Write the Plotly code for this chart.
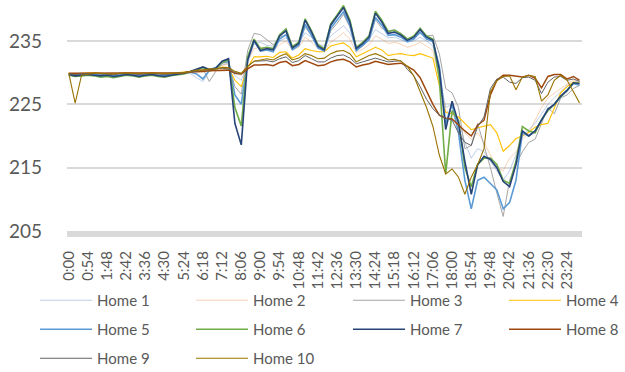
import plotly.graph_objects as go

# Sample times (minutes after midnight), one reading every 18 minutes plus the last minute of the day
sample_minutes = list(range(0, 1440, 18)) + [1439]

# Axis ticks: a label every 54 minutes
tick_minutes = list(range(0, 1440, 54))
tick_labels = [f"{m // 60}:{m % 60:02d}" for m in tick_minutes]

y_ticks = [205, 215, 225, 235]

# Voltage readings (V) per home
home1 = [229.6, 229.5, 229.6, 229.7, 229.8, 229.7, 229.6, 229.5, 229.6, 229.7, 229.6, 229.5, 229.6, 229.7, 229.6, 229.5, 229.6, 229.7, 229.8, 229.9,
         229.2, 228.6, 230.2, 230.6, 231.2, 231.5, 229.5, 228.8, 231.5, 234.5,
         234.8, 234.3, 234.2, 235.0, 235.5, 234.3, 234.6, 236.3, 235.6, 234.5, 234.2, 235.8, 236.6, 237.4, 236.3, 234.0, 234.5, 235.2, 236.8, 236.2,
         235.5, 235.6, 235.2, 234.8, 235.0, 235.6, 235.0, 234.2,
         229.5, 224.5, 225.0, 222.5, 219.0, 216.5, 218.0, 217.5, 216.0, 214.5, 213.0, 214.5, 217.0, 220.0, 221.0, 222.0, 223.5, 225.0, 226.0, 227.0,
         228.0, 228.5, 228.6]
home2 = [229.8, 229.7, 229.8, 229.9, 229.9, 229.8, 229.7, 229.7, 229.8, 229.9, 229.8, 229.7, 229.8, 229.9, 229.8, 229.7, 229.8, 229.9, 230.0, 230.2,
         230.5, 230.7, 230.6, 230.8, 231.2, 231.3, 229.8, 229.6, 231.8, 233.8,
         234.0, 233.6, 233.5, 234.4, 235.0, 233.6, 234.0, 235.6, 234.8, 233.8, 233.5, 234.8, 235.5, 236.3, 235.3, 233.2, 233.7, 234.4, 235.8, 235.3,
         234.6, 234.8, 234.5, 234.0, 234.3, 234.8, 234.2, 233.5,
         229.0, 224.0, 223.5, 222.0, 220.5, 219.5, 220.5, 219.0, 217.0, 215.0, 214.5, 216.5, 217.5, 219.5, 220.5, 222.5, 224.5, 226.0, 226.8, 227.5,
         228.2, 228.8, 229.0]
home3 = [229.8, 229.6, 229.7, 229.8, 229.9, 229.8, 229.6, 229.6, 229.7, 229.8, 229.7, 229.6, 229.7, 229.8, 229.7, 229.6, 229.7, 229.8, 229.9, 230.0,
         230.4, 230.6, 228.6, 230.2, 231.5, 231.6, 227.8, 226.6, 233.5, 236.2,
         236.0, 235.2, 234.4, 235.6, 236.0, 234.0, 234.5, 237.2, 235.8, 234.0, 233.5, 236.6, 237.8, 239.2, 237.2, 233.6, 234.2, 235.2, 238.4, 237.0,
         236.6, 236.8, 236.2, 235.4, 235.6, 236.2, 235.8, 235.9,
         233.0, 227.5, 226.8, 224.5, 218.0, 218.5, 222.0, 218.5, 215.0, 211.0, 207.3, 213.0, 215.5, 217.5, 219.0, 219.5, 222.0, 224.5, 223.5, 226.0,
         226.5, 227.5, 228.0]
home4 = [229.9, 229.8, 229.9, 230.0, 230.0, 229.9, 229.8, 229.8, 229.9, 230.0, 229.9, 229.8, 229.9, 230.0, 229.9, 229.8, 229.9, 230.0, 230.1, 230.2,
         230.4, 230.5, 230.6, 230.6, 230.9, 230.8, 228.8, 227.8, 230.8, 232.5,
         232.5, 232.6, 232.4, 233.2, 233.3, 232.3, 232.8, 233.8, 233.5, 233.3, 233.3, 234.2, 234.5, 234.7, 234.0, 232.5, 233.0, 233.5, 234.0, 233.6,
         232.7, 232.9, 233.0, 232.8, 232.7, 233.0, 232.7, 232.3,
         228.0, 223.7, 223.5, 223.0, 222.0, 221.0, 221.3, 221.6, 221.8, 220.5, 217.6, 218.5, 219.6, 220.0, 220.6, 221.4, 221.8, 222.0, 224.5, 226.8,
         227.8, 228.5, 228.4]
home5 = [229.7, 229.6, 229.7, 229.8, 229.7, 229.6, 229.7, 229.5, 229.6, 229.8, 229.7, 229.5, 229.7, 229.8, 229.6, 229.5, 229.7, 229.8, 229.9, 230.1,
         229.8, 229.0, 230.4, 230.8, 231.6, 231.8, 226.5, 225.0, 232.0, 235.0,
         233.4, 233.6, 233.3, 235.3, 236.0, 233.6, 234.3, 237.6, 235.9, 233.9, 233.4, 237.0, 238.3, 239.6, 237.5, 233.5, 234.3, 235.2, 238.7, 237.5,
         235.9, 236.0, 235.6, 234.9, 235.3, 236.4, 235.3, 234.9,
         231.0, 222.0, 225.0, 220.5, 213.0, 208.5, 213.0, 213.5, 212.5, 211.5, 208.5, 209.5, 213.0, 220.5, 220.0, 220.8, 222.5, 224.2, 225.0, 226.2,
         227.2, 228.3, 228.0]
home6 = [229.6, 229.4, 229.5, 229.6, 229.5, 229.3, 229.4, 229.2, 229.4, 229.6, 229.5, 229.3, 229.5, 229.6, 229.4, 229.3, 229.5, 229.6, 229.8, 230.1,
         230.4, 230.8, 230.3, 230.6, 231.6, 232.0, 224.5, 221.6, 232.5, 235.3,
         233.8, 234.0, 233.8, 236.0, 236.9, 234.1, 234.8, 238.5, 236.6, 234.4, 233.8, 237.7, 239.1, 240.6, 238.3, 234.0, 234.8, 235.8, 239.7, 238.3,
         236.5, 236.7, 236.1, 235.3, 235.8, 237.0, 235.8, 235.3,
         229.0, 214.0, 224.0, 222.5, 215.0, 212.0, 215.5, 216.5, 216.5, 215.5, 213.0, 212.5, 216.0, 221.5, 220.8, 220.5, 222.6, 224.0, 225.0, 226.2,
         227.2, 228.4, 228.3]
home7 = [229.7, 229.5, 229.6, 229.7, 229.6, 229.5, 229.6, 229.4, 229.5, 229.7, 229.6, 229.4, 229.6, 229.7, 229.5, 229.4, 229.6, 229.7, 229.9, 230.2,
         230.5, 230.9, 230.5, 230.7, 231.8, 232.2, 222.0, 218.6, 232.0, 235.1,
         233.5, 233.8, 233.6, 235.8, 236.6, 233.9, 234.6, 238.3, 236.4, 234.2, 233.6, 237.5, 238.9, 240.3, 238.0, 233.8, 234.6, 235.6, 239.4, 238.0,
         236.2, 236.4, 235.9, 235.1, 235.6, 236.8, 235.6, 235.1,
         230.5, 221.0, 225.5, 222.0, 216.0, 210.8, 215.5, 216.8, 216.3, 215.0, 212.8, 212.0, 215.5, 220.8, 220.0, 220.8, 222.5, 224.2, 225.0, 226.3,
         227.2, 228.4, 228.3]
home8 = [229.9, 229.9, 230.0, 230.0, 230.0, 229.9, 229.9, 229.9, 230.0, 230.0, 229.9, 229.9, 230.0, 230.0, 229.9, 229.9, 229.9, 230.0, 230.0, 230.1,
         230.1, 230.2, 230.3, 230.3, 230.4, 230.4, 229.9, 229.8, 230.6, 231.2,
         231.2, 231.3, 231.1, 231.6, 231.8, 231.1, 231.3, 231.9, 231.5, 231.1, 231.2, 231.7, 232.0, 232.1, 231.7, 230.9, 231.2, 231.4, 231.8, 231.6,
         231.3, 231.4, 231.5, 231.0, 230.4, 229.2, 227.0, 225.0,
         223.3, 222.8, 222.7, 221.7, 220.8, 220.0, 221.7, 222.5, 226.5, 228.8, 229.6, 229.6, 229.4, 229.3, 229.6, 229.1, 227.6, 229.4, 229.7, 229.7,
         229.0, 229.4, 228.8]
home9 = [229.8, 229.7, 229.8, 229.9, 229.9, 229.8, 229.7, 229.7, 229.8, 229.9, 229.8, 229.7, 229.8, 229.9, 229.8, 229.7, 229.8, 229.9, 230.0, 230.1,
         230.2, 230.4, 230.5, 230.5, 230.7, 230.6, 230.0, 229.8, 231.0, 231.8,
         231.8, 231.9, 231.7, 232.2, 232.5, 231.6, 231.9, 232.7, 232.2, 231.7, 231.7, 232.3, 232.7, 232.8, 232.3, 231.4, 231.7, 232.0, 232.3, 232.0,
         231.7, 231.8, 231.9, 230.5, 229.5, 227.8, 225.8, 224.3,
         223.3, 222.8, 222.5, 220.5, 219.0, 218.5, 221.5, 223.0, 227.5, 229.0, 229.3, 228.5, 228.3, 229.2, 229.3, 228.8, 226.7, 228.5, 229.3, 229.4,
         228.8, 229.0, 228.6]
home10 = [229.9, 225.2, 229.6, 229.8, 229.9, 229.9, 229.8, 229.8, 229.9, 229.9, 229.9, 229.8, 229.8, 229.9, 229.9, 229.8, 229.8, 229.9, 230.0, 230.2,
          230.4, 230.4, 230.6, 230.6, 230.8, 230.8, 230.2, 229.9, 231.0, 231.8,
          232.0, 232.2, 232.0, 232.6, 233.0, 232.0, 232.3, 233.0, 232.7, 232.2, 232.3, 233.0, 233.4, 233.5, 233.0, 231.7, 232.2, 232.7, 233.0, 232.6,
          232.0, 232.1, 231.8, 231.0, 229.5, 227.0, 224.5, 221.5,
          217.0, 214.0, 214.8, 213.5, 210.8, 213.5, 215.5, 218.0, 227.0, 228.7, 229.4, 229.5, 227.3, 229.3, 229.6, 229.4, 225.5, 226.5, 228.8, 229.6,
          228.8, 227.0, 225.2]

series_names = ["Home 1", "Home 2", "Home 3", "Home 4", "Home 5",
                "Home 6", "Home 7", "Home 8", "Home 9", "Home 10"]
series_values = [home1, home2, home3, home4, home5, home6, home7, home8, home9, home10]
series_colors = ["rgba(68,114,196,0.35)", "rgba(237,125,49,0.35)", "#A5A5A5", "#FFC000", "#5B9BD5",
                 "#70AD47", "#264478", "#9E480E", "#636363", "#997300"]
# Homes 5-8 are drawn with a heavier stroke
series_widths = [1.0, 1.0, 1.0, 1.1, 1.6, 1.6, 1.6, 1.5, 1.0, 1.1]

# legend laid out as four columns (row-major order: Home 1-4, 5-8, 9-10)
legend_ids = ["legend", "legend2", "legend3", "legend4"] * 2 + ["legend", "legend2"]
column_left = [-0.062, 0.2408, 0.5456, 0.8485]

TEXT = "#595959"
FONT = "Lato"

fig = go.Figure()
for name, vals, col, w, lg in zip(series_names, series_values, series_colors, series_widths, legend_ids):
    fig.add_trace(go.Scatter(
        x=sample_minutes, y=vals, name=name, mode="lines",
        line=dict(color=col, width=w), legend=lg, legendgroup=name,
    ))

legend_common = dict(
    orientation="v", xanchor="left", yanchor="top", y=-0.2325,
    itemwidth=52, tracegroupgap=6.5,
    font=dict(family=FONT, size=15, color=TEXT), bgcolor="rgba(0,0,0,0)",
    traceorder="grouped",
)

fig.update_layout(
    width=625, height=372,
    margin=dict(l=67, r=43, t=3, b=141, autoexpand=False),
    paper_bgcolor="white", plot_bgcolor="white",
    font=dict(family=FONT, color=TEXT),
    legend=dict(legend_common, x=column_left[0]),
    legend2=dict(legend_common, x=column_left[1]),
    legend3=dict(legend_common, x=column_left[2]),
    legend4=dict(legend_common, x=column_left[3]),
    xaxis=dict(
        range=[-5, 1446], tickmode="array", tickvals=tick_minutes, ticktext=tick_labels,
        tickangle=-90, tickfont=dict(family=FONT, size=15, color=TEXT),
        showgrid=False, zeroline=False, automargin=False,
        showline=True, linecolor="#d9d9d9", linewidth=6,
        ticks="", ticklabelstandoff=8,
    ),
    yaxis=dict(
        range=[205, 241], tickmode="array", tickvals=y_ticks,
        tickfont=dict(family=FONT, size=19, color=TEXT),
        showgrid=True, gridcolor="#d9d9d9", gridwidth=2, automargin=False,
        zeroline=False, showline=False, ticks="", ticklabelstandoff=24,
    ),
)

fig.write_html("out.html")
